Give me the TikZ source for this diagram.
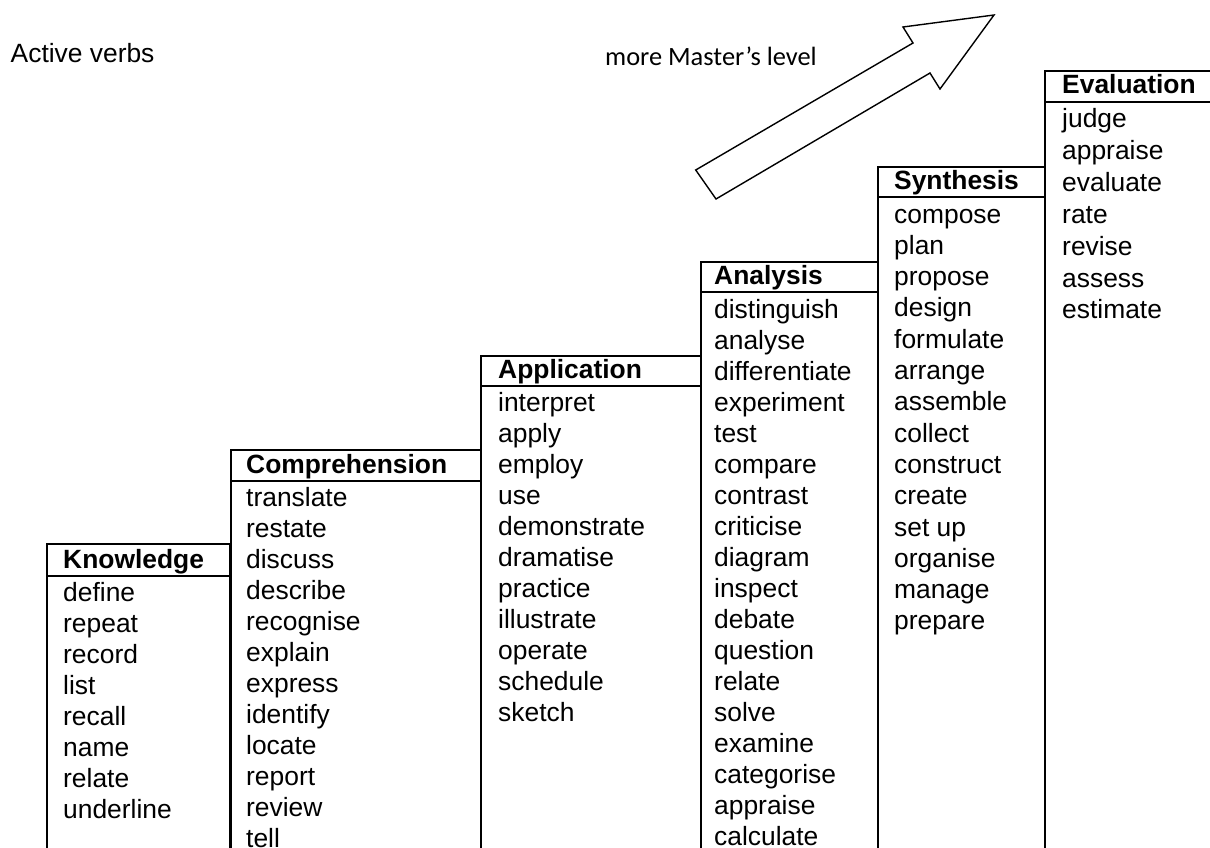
\documentclass[tikz,border=0pt]{standalone}
\usepackage{fontspec}
\setmainfont{Liberation Sans}
\newfontfamily\calibrifont{Carlito}
\begin{document}
\begin{tikzpicture}[x=1pt,y=-1pt,
  frame/.style={line width=2pt, line cap=rect},
  arrowline/.style={line width=1.4pt, line join=miter},
  word/.style={anchor=base west, inner sep=0pt, font=\fontsize{26.4}{31}\selectfont},
  head/.style={anchor=base west, inner sep=0pt, font=\fontsize{26.4}{31}\selectfont\bfseries},
  note/.style={anchor=base west, inner sep=0pt, font=\fontsize{26.4}{31}\selectfont\calibrifont}]
\useasboundingbox (0,0) rectangle (1210,848);
\fill[white] (0,0) rectangle (1210,848);

% titles
\node[word] (title) at (10.5,63) {Active verbs};
\node[note] (master) at (605,66) {more Master’s level};

% arrow
\draw[arrowline] (695.7,170) -- (716,199) -- (930,73) -- (940,89) -- (994,15) -- (903,27) -- (913,43) -- cycle;

% column frames
\draw[frame] (47,860) -- (47,544) -- (230,544) -- (230,860);
\draw[frame] (47,576) -- (230,576);
\draw[frame] (231,860) -- (231,450) -- (481,450) -- (481,860);
\draw[frame] (231,481) -- (481,481);
\draw[frame] (481,860) -- (481,356) -- (701,356) -- (701,860);
\draw[frame] (481,386) -- (701,386);
\draw[frame] (701,860) -- (701,262) -- (878,262) -- (878,860);
\draw[frame] (701,292) -- (878,292);
\draw[frame] (878,860) -- (878,167) -- (1045,167) -- (1045,860);
\draw[frame] (878,197) -- (1045,197);
\draw[frame] (1045,860) -- (1045,71) -- (1220,71);
\draw[frame] (1045,102) -- (1220,102);

% Knowledge
\node[head] (hk) at (63,568) {Knowledge};
\foreach \w [count=\i from 0] in {define,repeat,record,list,recall,name,relate,underline}
  \node[word] (k\i) at (63,{601+31.1*\i}) {\w};

% Comprehension
\node[head] (hc) at (246,473) {Comprehension};
\foreach \w [count=\i from 0] in {translate,restate,discuss,describe,recognise,explain,express,identify,locate,report,review,tell}
  \node[word] (c\i) at (246,{506+31*\i}) {\w};

% Application
\node[head] (hap) at (498,378) {Application};
\foreach \w [count=\i from 0] in {interpret,apply,employ,use,demonstrate,dramatise,practice,illustrate,operate,schedule,sketch}
  \node[word] (ap\i) at (498,{411+31*\i}) {\w};

% Analysis
\node[head] (han) at (714,284) {Analysis};
\foreach \w [count=\i from 0] in {distinguish,analyse,differentiate,experiment,test,compare,contrast,criticise,diagram,inspect,debate,question,relate,solve,examine,categorise,appraise,calculate}
  \node[word] (an\i) at (714,{318+31*\i}) {\w};

% Synthesis
\node[head] (hs) at (894,189) {Synthesis};
\foreach \w [count=\i from 0] in {compose,plan,propose,design,formulate,arrange,assemble,collect,construct,create,set up,organise,manage,prepare}
  \node[word] (s\i) at (894,{223+31.3*\i}) {\w};

% Evaluation
\node[head] (he) at (1062,94) {Evaluation};
\foreach \w [count=\i from 0] in {judge,appraise,evaluate,rate,revise,assess,estimate}
  \node[word] (e\i) at (1062,{127.5+31.9*\i}) {\w};
\end{tikzpicture}
\end{document}
